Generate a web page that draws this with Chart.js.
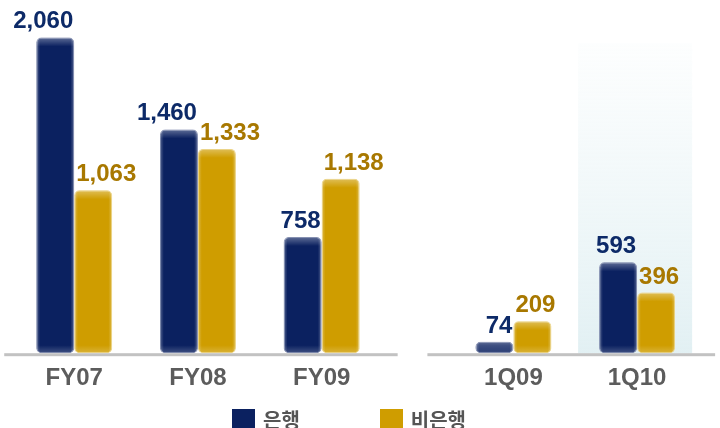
<!DOCTYPE html>
<html>
<head>
<meta charset="utf-8">
<script src="https://cdn.jsdelivr.net/npm/chart.js@4.4.1/dist/chart.umd.min.js"></script>
<style>
  html, body { margin: 0; padding: 0; background: #fff; }
  #wrap { position: relative; width: 720px; height: 428px; overflow: hidden; }
  #legend { position: absolute; left: 232px; top: 405px; display: flex; align-items: center;
            font: bold 20px "Noto Sans CJK KR", sans-serif; color: #555; }
  #legend .item { display: flex; align-items: center; margin-right: 80px; }
  #legend .box { width: 23px; height: 22px; margin-right: 8px; }
</style>
</head>
<body>
<div id="wrap">
  <canvas id="chart" width="720" height="428"></canvas>
  <div id="legend"></div>
</div>
<script>
"use strict";

const categories = ["FY07", "FY08", "FY09", "1Q09", "1Q10"];
const bankValues = [2060, 1460, 758, 74, 593];
const nonBankValues = [1063, 1333, 1138, 209, 396];
const seriesNames = ["은행", "비은행"];

const barColors = ["#0b2160", "#cf9d00"];
const barBorders = ["#4a5a8c", "#e2c050"];
const valueColors = ["#0d2a68", "#a87800"];
const yearCount = 3;
const quarterGap = 0.55;
const highlightIndex = 4;

// years and quarters sit on one linear axis, quarters pushed right by a gap
const xPos = categories.map((c, i) => i < yearCount ? i : i + quarterGap);

function toPoints(values) {
    return values.map((v, i) => ({ x: xPos[i], y: v }));
}

const panelPlugin = {
    id: "panel",
    beforeDatasetsDraw(chart) {
        const ctx = chart.ctx;
        const x = chart.scales.x.getPixelForValue(xPos[highlightIndex]);
        const bottom = chart.chartArea.bottom;
        const top = chart.chartArea.top + 27;
        const g = ctx.createLinearGradient(0, top, 0, bottom);
        g.addColorStop(0, "rgba(232,244,246,0.1)");
        g.addColorStop(1, "rgba(226,240,243,1)");
        ctx.save();
        ctx.fillStyle = g;
        ctx.fillRect(x - 59, top, 114, bottom - top);
        ctx.restore();
    }
};

const bevelPlugin = {
    id: "bevel",
    afterDatasetsDraw(chart) {
        const ctx = chart.ctx;
        chart.data.datasets.forEach((ds, di) => {
            chart.getDatasetMeta(di).data.forEach(bar => {
                const { x, y, base, width } = bar.getProps(["x", "y", "base", "width"], true);
                const left = x - width / 2;
                const h = base - y;
                ctx.save();
                ctx.beginPath();
                ctx.roundRect(left, y, width, h, 5);
                ctx.clip();
                let g = ctx.createLinearGradient(left, 0, left + width, 0);
                g.addColorStop(0, "rgba(255,255,255,0.30)");
                g.addColorStop(0.1, "rgba(255,255,255,0)");
                g.addColorStop(0.9, "rgba(255,255,255,0)");
                g.addColorStop(1, "rgba(255,255,255,0.30)");
                ctx.fillStyle = g;
                ctx.fillRect(left, y, width, h);
                g = ctx.createLinearGradient(0, y, 0, y + 9);
                g.addColorStop(0, "rgba(255,255,255,0.35)");
                g.addColorStop(1, "rgba(255,255,255,0)");
                ctx.fillStyle = g;
                ctx.fillRect(left, y, width, Math.min(9, h));
                g = ctx.createLinearGradient(0, base - 8, 0, base);
                g.addColorStop(0, "rgba(255,255,255,0)");
                g.addColorStop(1, "rgba(255,255,255,0.22)");
                ctx.fillStyle = g;
                ctx.fillRect(left, base - 8, width, 8);
                ctx.restore();
            });
        });
    }
};

const baselinePlugin = {
    id: "baseline",
    afterDatasetsDraw(chart) {
        const ctx = chart.ctx;
        const sx = chart.scales.x;
        const y = chart.chartArea.bottom;
        const segments = [
            [sx.getPixelForValue(xPos[0]) - 70, sx.getPixelForValue(xPos[yearCount - 1]) + 76],
            [sx.getPixelForValue(xPos[yearCount]) - 86, sx.getPixelForValue(xPos[xPos.length - 1]) + 78]
        ];
        ctx.save();
        ctx.fillStyle = "#c2c2c2";
        segments.forEach(([a, b]) => ctx.fillRect(a, y, b - a, 3));
        ctx.restore();
    }
};

const valuePlugin = {
    id: "values",
    afterDatasetsDraw(chart) {
        const ctx = chart.ctx;
        ctx.save();
        ctx.font = "bold 24px 'Liberation Sans', Arial, sans-serif";
        ctx.textBaseline = "alphabetic";
        chart.data.datasets.forEach((ds, di) => {
            ctx.fillStyle = valueColors[di];
            ctx.textAlign = di === 0 ? "right" : "left";
            chart.getDatasetMeta(di).data.forEach((bar, i) => {
                const { x, y, width } = bar.getProps(["x", "y", "width"], true);
                const tx = di === 0 ? x + width / 2 - 1 : x - width / 2 + 2;
                ctx.fillText(ds.data[i].y.toLocaleString("en-US"), tx, y - 9);
            });
        });
        ctx.restore();
    }
};

function buildLegend(chart) {
    const legend = document.querySelector("#legend");
    chart.data.datasets.forEach(ds => {
        const item = document.createElement("div");
        item.className = "item";
        const box = document.createElement("span");
        box.className = "box";
        box.style.background = ds.backgroundColor;
        const text = document.createElement("span");
        text.textContent = ds.label;
        item.append(box, text);
        legend.append(item);
    });
}

const chart = new Chart(document.querySelector("#chart").getContext("2d"), {
    type: "bar",
    data: {
        datasets: [
            {
                label: seriesNames[0],
                data: toPoints(bankValues),
                backgroundColor: barColors[0],
                borderColor: barBorders[0],
                borderWidth: 1,
                borderRadius: 5,
                borderSkipped: false
            },
            {
                label: seriesNames[1],
                data: toPoints(nonBankValues),
                backgroundColor: barColors[1],
                borderColor: barBorders[1],
                borderWidth: 1,
                borderRadius: 5,
                borderSkipped: false
            }
        ]
    },
    options: {
        responsive: false,
        animation: false,
        layout: { padding: { top: 16, bottom: 24, left: 0, right: 0 } },
        datasets: { bar: { categoryPercentage: 0.614, barPercentage: 1 } },
        plugins: {
            legend: { display: false },
            tooltip: { enabled: false }
        },
        scales: {
            x: {
                type: "linear",
                min: -0.6,
                max: 5.22,
                offset: false,
                bounds: "data",
                grid: { display: false, drawTicks: false },
                border: { display: false },
                afterBuildTicks: scale => {
                    scale.ticks = xPos.map(v => ({ value: v }));
                },
                ticks: {
                    autoSkip: false,
                    maxRotation: 0,
                    padding: 11,
                    color: "#5c5c5c",
                    font: { family: "'Liberation Sans', Arial, sans-serif", size: 24, weight: "bold" },
                    callback: (value, index) => categories[index]
                }
            },
            y: {
                display: false,
                min: 0,
                max: 2200
            }
        }
    },
    plugins: [panelPlugin, bevelPlugin, baselinePlugin, valuePlugin]
});

buildLegend(chart);
</script>
</body>
</html>
